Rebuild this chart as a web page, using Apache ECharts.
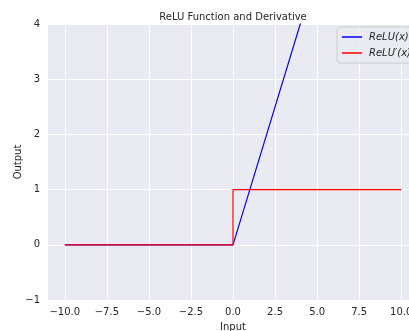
<!DOCTYPE html>
<html><head><meta charset="utf-8">
<script src="https://cdn.jsdelivr.net/npm/echarts@6/dist/echarts.min.js"></script>
<style>html,body{margin:0;padding:0;background:#fff}#c{width:409px;height:331px}</style>
</head><body><div id="c"></div>
<script>
const xTicks = [-10, -7.5, -5, -2.5, 0, 2.5, 5, 7.5, 10];
const yTicks = [-1, 0, 1, 2, 3, 4];
const reluX = [-10, 0, 10];
const reluY = [0, 0, 10];
const derivX = [-10, 0, 0, 10];
const derivY = [0, 0, 1, 1];
const names = ['ReLU(x)', 'ReLU\u2032(x)'];

const fmt = v => {
  const s = Number(v).toFixed(1);
  return s.replace('-', '\u2212');
};
const chart = echarts.init(document.getElementById('c'));
const font = 'DejaVu Sans';
chart.setOption({
  animation: false,
  backgroundColor: '#ffffff',
  textStyle: { fontFamily: font },
  title: {
    text: 'ReLU Function and Derivative', left: 228, top: 7, textAlign: 'center',
    textStyle: { fontSize: 10, fontWeight: 'normal', color: '#262626', fontFamily: font }
  },
  grid: { left: 48, right: -9, top: 24, bottom: 31, backgroundColor: '#EAEAF2', show: true, borderWidth: 0,
          outerBoundsMode: 'none', containLabel: false },
  legend: {
    left: 337, top: 27, orient: 'vertical', itemWidth: 20, itemHeight: 1.5, itemGap: 6,
    backgroundColor: 'rgba(234,234,242,0.8)', borderColor: '#cccccc', borderWidth: 1, borderRadius: 3,
    padding: [5, 6, 5, 5],
    textStyle: { fontSize: 10, fontStyle: 'italic', color: '#262626', fontFamily: font, padding: [0, 0, 0, 2] },
    data: names.map(n => ({ name: n, icon: 'rect' }))
  },
  xAxis: {
    type: 'value', min: -11, max: 11,
    name: 'Input', nameLocation: 'middle', nameGap: 22, nameMoveOverlap: false,
    nameTextStyle: { fontSize: 10, color: '#262626', fontFamily: font },
    axisLine: { show: false }, axisTick: { show: false, customValues: xTicks },
    axisLabel: { customValues: xTicks, formatter: fmt, fontSize: 10, color: '#262626', margin: 7, fontFamily: font },
    splitLine: { show: true, lineStyle: { color: '#ffffff', width: 1 } }
  },
  yAxis: {
    type: 'value', min: -1, max: 4, interval: 1,
    name: 'Output', nameLocation: 'middle', nameGap: 25, nameRotate: 90, nameMoveOverlap: false,
    nameTextStyle: { fontSize: 10, color: '#262626', fontFamily: font },
    axisLine: { show: false }, axisTick: { show: false },
    axisLabel: { formatter: v => String(v).replace('-', '\u2212'), fontSize: 10, color: '#262626', margin: 8, fontFamily: font },
    splitLine: { show: true, lineStyle: { color: '#ffffff', width: 1 } }
  },
  series: [
    { name: names[0], type: 'line', clip: true, showSymbol: false, color: '#0000ff',
      lineStyle: { width: 1.2, color: '#0000ff' },
      data: reluX.map((x, i) => [x, reluY[i]]) },
    { name: names[1], type: 'line', clip: true, showSymbol: false, color: '#ff0000',
      lineStyle: { width: 1.2, color: '#ff0000' },
      data: derivX.map((x, i) => [x, derivY[i]]) }
  ]
});
</script></body></html>
